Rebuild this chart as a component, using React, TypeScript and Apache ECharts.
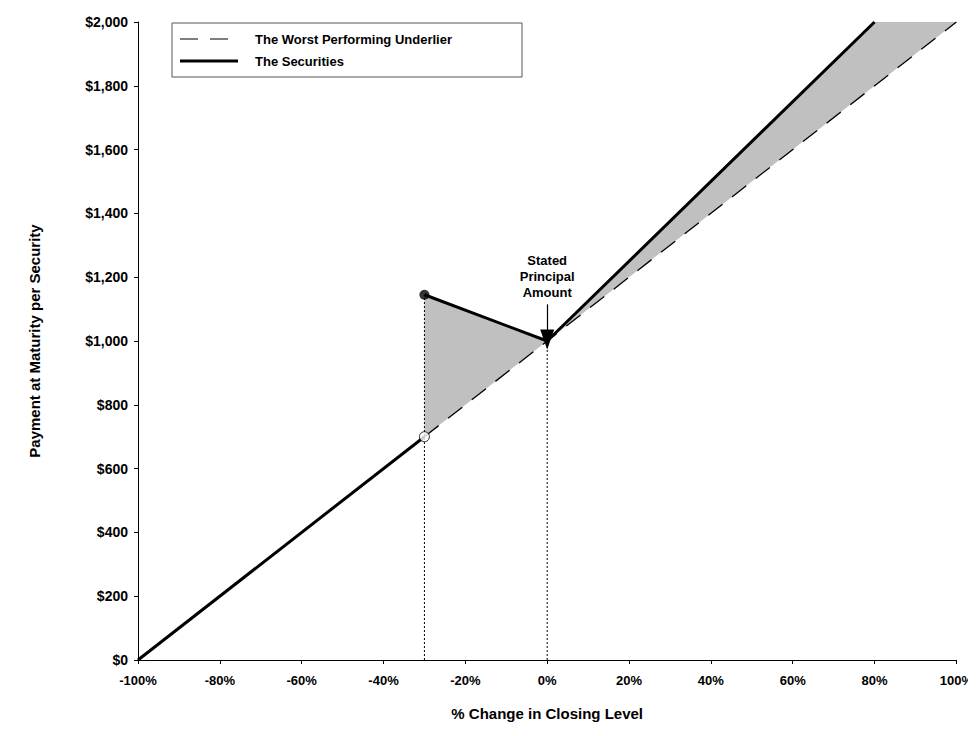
import * as echarts from "echarts";
import { useEffect, useRef } from "react";

const xTicks = [-100, -80, -60, -40, -20, 0, 20, 40, 60, 80, 100];
const securitiesLow: [number, number][] = [[-100, 0], [-30, 700]];
const securitiesHigh: [number, number][] = [[-30, 1145], [0, 1000], [80, 2000]];
const underlier: [number, number][] = [[-30, 700], [100, 2000]];
const shaded: [number, number][][] = [
  [[-30, 700], [-30, 1145], [0, 1000]],
  [[0, 1000], [80, 2000], [100, 2000]],
];
const guides: [number, number][][] = [
  [[-30, 0], [-30, 1145]],
  [[0, 0], [0, 1000]],
];
const font = "'Liberation Sans', Arial, sans-serif";

export default function App() {
  const box = useRef<HTMLDivElement>(null);

  useEffect(() => {
    if (!box.current) return;
    const c = echarts.init(box.current, undefined, { renderer: "svg" });
    const text = { fontFamily: font, fontWeight: "bold" as const, fontSize: 13, color: "#000" };
    c.setOption({
      animation: false,
      grid: { left: 138, right: 18, top: 22, bottom: 76 },
      xAxis: {
        type: "value", min: xTicks[0], max: xTicks[xTicks.length - 1], interval: 20,
        name: "% Change in Closing Level", nameLocation: "middle", nameGap: 46,
        nameTextStyle: { ...text, fontSize: 15 },
        axisLine: { onZero: false, lineStyle: { color: "#000" } },
        axisTick: { show: true, length: 4, lineStyle: { color: "#000" } },
        axisLabel: { ...text, margin: 14, formatter: (v: number) => `${v}%` },
        splitLine: { show: false },
      },
      yAxis: {
        type: "value", min: 0, max: 2000, interval: 200,
        name: "Payment at Maturity per Security", nameLocation: "middle", nameGap: 96,
        nameTextStyle: { ...text, fontSize: 15 },
        axisLine: { show: true, onZero: false, lineStyle: { color: "#000" } },
        axisTick: { show: true, length: 4, lineStyle: { color: "#000" } },
        axisLabel: { ...text, fontSize: 14, margin: 10, formatter: (v: number) => "$" + v.toLocaleString("en-US") },
        splitLine: { show: false },
      },
      graphic: [
        { type: "rect", shape: { x: 172, y: 23, width: 350, height: 54 }, style: { fill: "#fff", stroke: "#555", lineWidth: 1 }, z: 100 },
        { type: "line", shape: { x1: 180, y1: 39, x2: 238, y2: 39 }, style: { stroke: "#000", lineWidth: 1.2, lineDash: [18, 12] }, z: 101 },
        { type: "line", shape: { x1: 180, y1: 61, x2: 238, y2: 61 }, style: { stroke: "#000", lineWidth: 3 }, z: 101 },
        { type: "text", x: 255, y: 39, style: { text: "The Worst Performing Underlier", font: `bold 13px ${font}`, fill: "#000", verticalAlign: "middle" }, z: 101 },
        { type: "text", x: 255, y: 61, style: { text: "The Securities", font: `bold 13px ${font}`, fill: "#000", verticalAlign: "middle" }, z: 101 },
      ],
      series: [
        {
          type: "custom",
          data: shaded.map((_, i) => i),
          renderItem: (_p: unknown, api: any) => {
            const poly = shaded[api.value(0)];
            return { type: "polygon", shape: { points: poly.map((pt) => api.coord(pt)) }, style: { fill: "#c0c0c0" } };
          },
          encode: { x: -1, y: -1 },
          z: 1,
        },
        ...guides.map((g) => ({
          type: "line", data: g, symbol: "none",
          lineStyle: { color: "#000", width: 1, type: [2, 2] }, z: 2,
        })),
        {
          type: "line", data: underlier, symbol: "none",
          lineStyle: { color: "#000", width: 1.3, type: [18, 12] }, z: 3,
          markLine: {
            silent: true, symbol: ["none", "triangle"], symbolSize: [14, 20],
            lineStyle: { color: "#000", width: 1.2, type: "solid" },
            label: { show: true, position: "start", distance: 4, ...text, fontSize: 13, lineHeight: 16, formatter: "Stated\nPrincipal\nAmount" },
            data: [[{ coord: [0, 1115] }, { coord: [0, 1005] }]],
          },
        },
        { type: "line", data: securitiesLow, symbol: "none", lineStyle: { color: "#000", width: 3 }, z: 4 },
        { type: "line", data: securitiesHigh, symbol: "none", lineStyle: { color: "#000", width: 3 }, z: 4 },
        {
          type: "scatter", data: [[-30, 1145]], symbolSize: 10,
          itemStyle: { color: "#000" }, z: 5,
        },
        {
          type: "scatter", data: [[-30, 700]], symbolSize: 10,
          itemStyle: { color: "#fff", borderColor: "#000", borderWidth: 1 }, z: 5,
        },
      ],
    });
    return () => c.dispose();
  }, []);

  return <div ref={box} style={{ width: 976, height: 736, margin: -8 }} />;
}
